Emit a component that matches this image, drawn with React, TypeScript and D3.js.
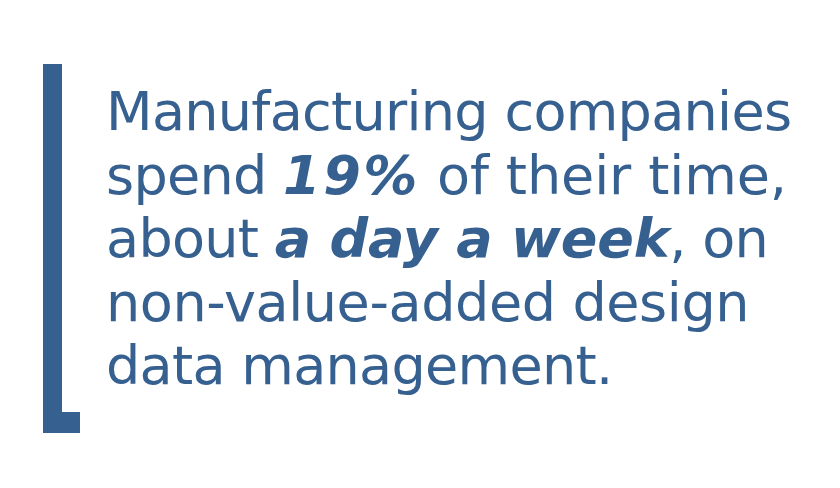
import React from "react";
import * as d3 from "d3";

type Seg = { text: string; bold?: boolean; ls?: number };

const line1: Seg[] = [{ text: "Manufacturing companies" }];
const line2: Seg[] = [{ text: "spend " }, { text: "19%", bold: true, ls: 2.5 }, { text: " of their time,", ls: -0.1 }];
const line3: Seg[] = [{ text: "about " }, { text: "a day a week", bold: true, ls: -0.2 }, { text: ", on" }];
const line4: Seg[] = [{ text: "non-value-added design", ls: -0.4 }];
const line5: Seg[] = [{ text: "data management." }];
const lines: Seg[][] = [line1, line2, line3, line4, line5];

const W = 840;
const H = 488;
const COLOR = "#36608f";

export default function App() {
  const y = d3.scaleLinear().domain([0, lines.length - 1]).range([130, 384]);
  return (
    <svg width={W} height={H} style={{ position: "absolute", left: 0, top: 0 }}>
      <rect x={0} y={0} width={W} height={H} fill="#fff" />
      <rect x={43} y={64} width={19} height={369} fill={COLOR} />
      <rect x={43} y={412} width={37} height={21} fill={COLOR} />
      {lines.map((segs, i) => (
        <text
          key={i}
          x={106}
          y={y(i)}
          fill={COLOR}
          fontFamily="'DejaVu Sans', Verdana, sans-serif"
          fontSize={54}
          style={{ whiteSpace: "pre" }}
        >
          {segs.map((s, j) => (
            <tspan
              key={j}
              fontWeight={s.bold ? "bold" : "normal"}
              fontStyle={s.bold ? "italic" : "normal"}
              letterSpacing={s.ls ?? -0.7}
            >
              {s.text}
            </tspan>
          ))}
        </text>
      ))}
    </svg>
  );
}
